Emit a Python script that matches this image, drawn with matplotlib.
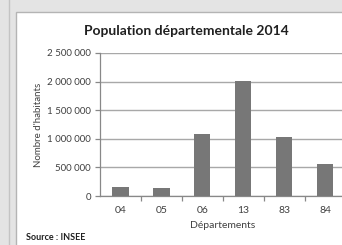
import matplotlib.pyplot as plt
from matplotlib.patches import Rectangle
from matplotlib.lines import Line2D
from matplotlib.ticker import FuncFormatter, MultipleLocator

# Population par département (INSEE, 2014)
departements = ['04', '05', '06', '13', '83', '84']
population = [161799, 139554, 1082440, 2006069, 1038212, 557548]

titre = 'Population départementale 2014'
label_y = "Nombre d'habitants"
label_x = 'Départements'
source = 'Source : INSEE'

plt.rcParams['font.family'] = ['Lato', 'DejaVu Sans']

W, H = 342, 245
fig = plt.figure(figsize=(W / 100, H / 100), dpi=100)
fig.patch.set_facecolor('#e4e4e4')

# cadre gris a gauche + zone blanche du graphique (sous les axes)
fig.add_artist(Line2D([8.5 / W, 8.5 / W], [0, 1], color='#c4c4c4', lw=1, zorder=-2))
fig.add_artist(Rectangle((15.5 / W, -0.1), 1, 1 - 12 / H + 0.1, facecolor='white',
                         edgecolor='#b4b4b4', lw=1, zorder=-1))

ax = fig.add_axes([100 / W, 49 / H, 245.4 / W, 143 / H])
ax.set_facecolor('white')

x = range(len(departements))
ax.bar(x, population, width=0.4, color='#777777', zorder=3)

ax.set_xlim(-0.5, len(departements) - 0.5)
ax.set_ylim(0, 2500000)
ax.yaxis.set_major_locator(MultipleLocator(500000))
ax.yaxis.set_major_formatter(FuncFormatter(lambda v, p: f'{int(v):,}'.replace(',', ' ')))
ax.grid(axis='y', color='#a8a8a8', lw=1, zorder=0)

ax.set_xticks(list(x))
ax.set_xticklabels(departements)
ax.set_xticks([i + 0.5 for i in x], minor=True)
ax.tick_params(axis='x', which='major', length=0, pad=7.5, labelsize=7.5, labelcolor='#404040')
ax.tick_params(axis='x', which='minor', length=3.5, color='#888888', width=0.9)
ax.tick_params(axis='y', length=3.5, color='#888888', width=0.9, pad=3,
               labelsize=7, labelcolor='#404040')

for s in ['top', 'right']:
    ax.spines[s].set_visible(False)
ax.spines['left'].set_color('#888888')
ax.spines['bottom'].set_color('#888888')
ax.spines['left'].set_linewidth(0.9)
ax.spines['bottom'].set_linewidth(0.9)

ax.set_xlabel(label_x, fontsize=7.5, color='#404040', labelpad=4)
ax.set_ylabel(label_y, fontsize=7, color='#404040', labelpad=3)

fig.text(186.5 / W, 1 - 31 / H, titre, ha='center', va='center',
         fontsize=10, fontweight='bold', color='#202020')
fig.text(26 / W, 1 - 237 / H, source, ha='left', va='center',
         fontsize=6.5, fontweight='bold', color='#202020')

plt.savefig('out.png', dpi=100, facecolor=fig.get_facecolor())
